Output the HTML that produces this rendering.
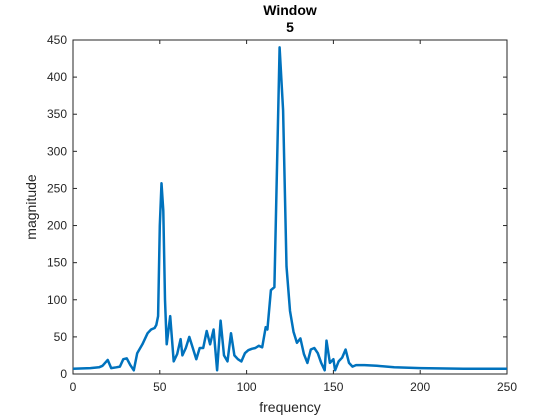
<!DOCTYPE html>
<html><head><meta charset="utf-8"><style>
body{margin:0;background:#fff;}
svg{display:block;font-family:"Liberation Sans",sans-serif;}
</style></head><body>
<svg id="chart" width="560" height="420" viewBox="0 0 560 420" xmlns="http://www.w3.org/2000/svg">
<rect x="0" y="0" width="560" height="420" fill="#fff"/>
<text x="290" y="15" text-anchor="middle" font-size="14" font-weight="bold" fill="#000">Window</text>
<text x="290" y="32" text-anchor="middle" font-size="14" font-weight="bold" fill="#000">5</text>
<g id="axes"></g>
<text x="290" y="412" text-anchor="middle" font-size="14" fill="#262626">frequency</text>
<text transform="translate(36,207) rotate(-90)" text-anchor="middle" font-size="14" fill="#262626">magnitude</text>
</svg>
<script>
const freqs = [0,10,15,17,20,22,25,27,29,31,33,35,37,40,43,45,47,48,49,50,51,52,53,54,56,58,60,62,63,65,67,69,71,73,75,77,79,81,83,85,87,89,91,93,95,97,99,101,103,105,107,109,111,112,114,116,119,121,123,125,127,129,131,133,135,137,139,141,143,145,146,148,150,151,153,155,157,159,161,163,168,175,185,200,225,250];
const mags = [7,8,9,11,19,8,9,10,20,21,12,5,28,40,55,60,62,66,78,200,257,220,100,40,78,17,27,47,25,35,50,35,20,35,35,58,40,60,5,72,25,17,55,25,20,17,28,32,34,35,38,36,63,60,113,117,440,355,145,85,57,42,48,27,15,33,35,28,15,5,45,15,20,5,17,22,33,15,10,12,12,11,9,8,7,7];
const xTicks = [0,50,100,150,200,250];
const yTicks = [0,50,100,150,200,250,300,350,400,450];
const L=73,R=507,T=40,B=374;
const xs=v=>L+(v-0)/250*(R-L);
const ys=v=>B-(v-0)/450*(B-T);
const NS="http://www.w3.org/2000/svg";
const g=document.getElementById('axes');
function mk(t,a){const e=document.createElementNS(NS,t);for(const k in a)e.setAttribute(k,a[k]);g.appendChild(e);return e;}
const box=mk('rect',{x:L,y:T,width:R-L,height:B-T,fill:'none',stroke:'#262626','stroke-width':1});


xTicks.forEach(t=>{
  const x=xs(t);
  const l1=mk('line',{x1:x,x2:x,y1:B,y2:B-4,stroke:'#262626'});
  
  
  const l2=mk('line',{x1:x,x2:x,y1:T,y2:T+4,stroke:'#262626'});
  
  
  const tx=mk('text',{x:x,y:B+17,'text-anchor':'middle','font-size':12,fill:'#262626'});
  tx.textContent=t;
  
  
});
yTicks.forEach(t=>{
  const y=ys(t);
  const l1=mk('line',{x1:L,x2:L+4,y1:y,y2:y,stroke:'#262626'});
  
  
  const l2=mk('line',{x1:R,x2:R-4,y1:y,y2:y,stroke:'#262626'});
  
  
  const tx=mk('text',{x:L-6,y:y+4,'text-anchor':'end','font-size':12,fill:'#262626'});
  tx.textContent=t;
  
  
});
const pts=freqs.map((f,i)=>xs(f).toFixed(1)+','+ys(mags[i]).toFixed(1)).join(' ');
const line=mk('polyline',{points:pts,fill:'none',stroke:'#0072BD','stroke-width':2.5,'stroke-linejoin':'round'});


</script>
</body></html>
